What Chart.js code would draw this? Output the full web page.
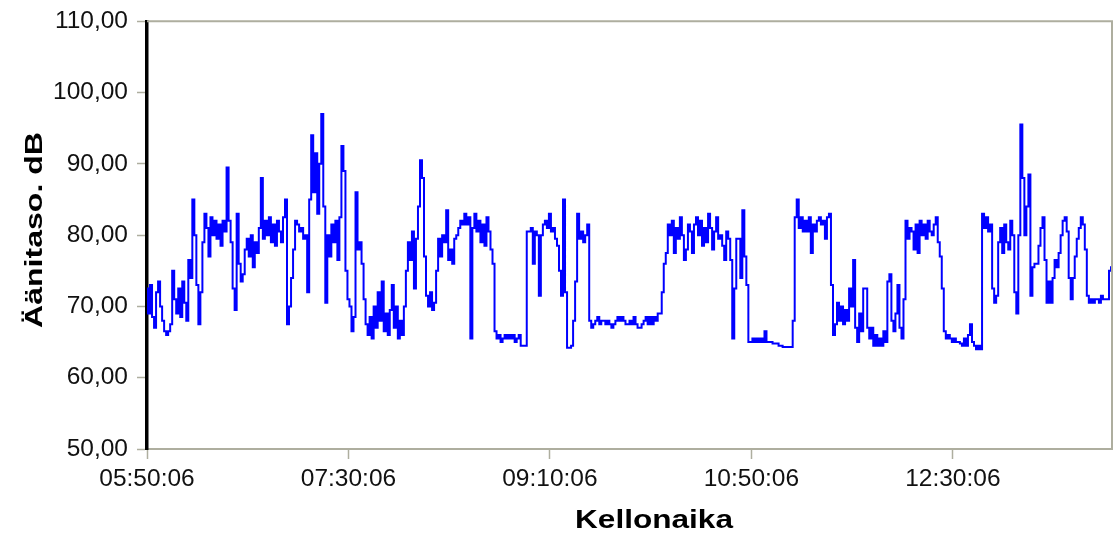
<!DOCTYPE html>
<html lang="fi">
<head>
<meta charset="utf-8">
<title>Äänitaso</title>
<script src="https://cdn.jsdelivr.net/npm/chart.js@4.4.1/dist/chart.umd.min.js"></script>
<style>
  html, body { margin: 0; padding: 0; background: #fff; }
  #wrap { width: 1115px; height: 535px; }
</style>
</head>
<body>
<div id="wrap"><canvas id="chart" width="1115" height="535"></canvas></div>
<script>
// Measurement start and sampling interval (one reading per minute)
const startTime = '05:50:06';
const sampleMinutes = 1;

// Time-axis labels
const tickLabels = ['05:50:06', '07:30:06', '09:10:06', '10:50:06', '12:30:06'];

// Level-axis ticks (dB)
const levelTicks = [50, 60, 70, 80, 90, 100, 110];

// Sound level readings, dB, one per minute
const soundLevel = [
  72.5, 69.0, 73.0, 68.5, 67.0, 72.0, 73.5, 70.0, 68.0, 66.5,
  66.0, 66.5, 67.5, 75.0, 71.0, 69.0, 72.5, 68.5, 73.5, 70.5,
  68.0, 76.5, 74.0, 85.0, 80.0, 73.0, 67.5, 72.0, 79.0, 83.0,
  81.0, 77.0, 82.5, 80.0, 82.0, 79.5, 81.5, 78.5, 82.0, 80.5,
  89.5, 82.0, 79.0, 72.5, 69.5, 83.0, 76.0, 73.5, 74.5, 78.0,
  79.5, 77.0, 80.0, 75.5, 79.0, 77.5, 81.0, 88.0, 79.5, 82.0,
  80.0, 82.5, 79.0, 81.5, 78.5, 82.0, 80.5, 79.0, 82.5, 85.0,
  67.5, 70.0, 74.0, 78.0, 82.0, 81.5, 80.5, 81.0, 79.5, 80.0,
  72.0, 85.0, 94.0, 86.0, 91.5, 83.0, 90.0, 97.0, 84.0, 70.5,
  80.0, 77.0, 81.5, 79.0, 82.0, 76.5, 82.5, 92.5, 89.0, 75.0,
  71.0, 70.0, 66.5, 68.5, 86.0, 78.0, 79.0, 76.0, 71.0, 67.5,
  66.0, 68.5, 65.5, 70.0, 67.0, 72.0, 68.0, 73.5, 66.5, 69.0,
  66.0, 69.5, 73.0, 67.0, 70.0, 65.5, 68.0, 66.0, 70.0, 75.0,
  79.0, 76.5, 80.5, 72.5, 79.5, 84.0, 90.5, 88.0, 77.0, 71.5,
  70.0, 72.0, 69.5, 70.5, 75.0, 79.5, 77.0, 80.0, 79.0, 83.5,
  76.5, 78.0, 76.0, 79.5, 80.0, 81.0, 82.0, 81.5, 83.0, 81.5,
  82.5, 65.5, 81.0, 83.0, 80.5, 82.0, 79.0, 81.5, 78.5, 82.5,
  80.5, 78.0, 76.0, 66.5, 65.5, 66.0, 65.0, 65.5, 66.0, 65.5,
  66.0, 65.5, 66.0, 65.0, 65.5, 66.0, 64.5, 64.5, 64.5, 80.5,
  80.5, 81.0, 76.0, 80.5, 80.0, 71.5, 80.0, 81.5, 82.0, 81.0,
  83.0, 80.5, 81.0, 79.5, 78.5, 75.0, 71.5, 85.0, 72.0, 64.2,
  64.2, 64.5, 68.0, 73.5, 83.0, 79.5, 80.5, 79.0, 80.0, 81.5,
  68.0, 67.0, 67.5, 68.0, 68.5, 67.5, 68.0, 68.0, 67.5, 68.0,
  67.5, 67.0, 67.5, 68.0, 68.5, 68.0, 68.5, 68.0, 67.5, 67.5,
  68.0, 67.5, 68.5, 67.5, 67.0, 67.0, 67.5, 68.0, 68.5, 67.5,
  68.5, 67.5, 68.5, 68.0, 69.0, 69.0, 72.0, 76.0, 77.5, 81.5,
  80.0, 82.0, 77.5, 81.0, 79.5, 82.5, 80.0, 76.5, 78.0, 81.5,
  80.5, 77.5, 81.5, 82.5, 80.0, 82.0, 78.5, 81.0, 79.0, 83.0,
  81.0, 78.0, 80.5, 82.5, 79.5, 80.0, 78.5, 76.5, 80.5, 79.5,
  76.5, 65.5, 72.5, 79.5, 79.5, 74.0, 83.5, 77.0, 73.0, 65.0,
  65.0, 65.5, 65.0, 65.5, 65.0, 65.5, 65.0, 66.5, 65.0, 65.0,
  65.0, 64.8, 64.8, 64.8, 64.5, 64.5, 64.3, 64.3, 64.3, 64.3,
  64.3, 68.0, 82.5, 85.0, 81.0, 82.5, 80.5, 82.0, 80.5, 82.5,
  77.5, 81.5, 80.5, 82.0, 82.5, 81.5, 82.0, 79.5, 82.5, 83.0,
  73.0, 66.0, 67.5, 70.5, 68.0, 70.0, 67.5, 69.5, 68.0, 72.5,
  70.0, 76.5, 67.0, 65.0, 69.0, 66.5, 72.5, 72.5, 67.0, 65.5,
  67.0, 64.5, 66.0, 64.5, 65.5, 64.5, 66.5, 65.0, 73.5, 74.5,
  68.0, 66.5, 69.0, 73.0, 67.0, 65.5, 71.0, 82.0, 79.5, 81.0,
  80.5, 78.0, 81.5, 77.5, 82.0, 80.0, 81.5, 79.5, 82.0, 80.5,
  80.0, 81.5, 82.5, 79.0, 77.0, 72.5, 66.5, 65.5, 66.0, 65.5,
  65.0, 65.5, 65.0, 65.0, 64.8, 64.5, 65.5, 64.5, 66.0, 67.5,
  65.0, 64.5, 64.0, 64.5, 64.0, 83.0, 81.0, 82.5, 80.5, 81.5,
  72.5, 70.5, 71.5, 79.0, 81.0, 77.5, 81.5, 79.0, 78.0, 82.0,
  80.0, 72.0, 69.0, 80.0, 95.5, 88.0, 80.0, 84.0, 88.5, 71.5,
  75.5, 76.0, 76.0, 78.5, 81.0, 82.5, 76.5, 70.5, 73.5, 70.5,
  74.0, 76.5, 75.5, 77.5, 80.0, 82.0, 82.5, 80.5, 74.0, 71.0,
  74.0, 77.0, 79.5, 81.0, 82.5, 81.5, 78.0, 71.5, 70.5, 71.0,
  70.5, 71.0, 71.0, 70.5, 71.5, 71.0, 71.0, 71.0, 75.0, 75.5
];

const xTitle = 'Kellonaika';
const yTitle = 'Äänitaso. dB';

function toSeconds(t) {
  const [h, m, s] = t.split(':').map(Number);
  return h * 3600 + m * 60 + s;
}
const tickMinutes = tickLabels.map(t => (toSeconds(t) - toSeconds(startTime)) / 60);
const points = soundLevel.map((v, i) => ({ x: i * sampleMinutes, y: v }));

const frameColor = '#aeae9f';
const tickFont = { family: '"Liberation Sans", Arial, sans-serif', size: 24.5, lineHeight: 1 };

// Axis titles drawn with a wide letter form
const titlePlugin = {
  id: 'axisTitles',
  afterDraw(chart) {
    const ctx = chart.ctx;
    ctx.save();
    ctx.fillStyle = '#000';
    ctx.textAlign = 'center';
    ctx.textBaseline = 'alphabetic';
    ctx.font = 'bold 25.5px "Liberation Sans", Arial, sans-serif';
    const wx = ctx.measureText(xTitle).width;
    ctx.translate(654, 528);
    ctx.scale(158 / wx, 1);
    ctx.fillText(xTitle, 0, 0);
    ctx.restore();

    ctx.save();
    ctx.fillStyle = '#000';
    ctx.textAlign = 'center';
    ctx.textBaseline = 'alphabetic';
    ctx.font = 'bold 23.5px "Liberation Sans", Arial, sans-serif';
    const wy = ctx.measureText(yTitle).width;
    ctx.translate(42, 230);
    ctx.rotate(-Math.PI / 2);
    ctx.scale(196 / wy, 1);
    ctx.fillText(yTitle, 0, 0);
    ctx.restore();
  }
};

// Top and right edges of the plot frame
const framePlugin = {
  id: 'plotFrame',
  afterDraw(chart) {
    const { ctx, chartArea: a } = chart;
    ctx.save();
    ctx.strokeStyle = frameColor;
    ctx.lineWidth = 2;
    ctx.beginPath();
    ctx.moveTo(a.left, a.top);
    ctx.lineTo(a.right, a.top);
    ctx.lineTo(a.right, a.bottom);
    ctx.stroke();
    ctx.restore();
  }
};

new Chart(document.getElementById('chart'), {
  type: 'line',
  data: {
    datasets: [{
      data: points,
      borderColor: '#0000ff',
      borderWidth: 2,
      pointRadius: 0,
      stepped: 'middle',
      fill: false
    }]
  },
  options: {
    responsive: false,
    animation: false,
    layout: { padding: { top: 20, right: 3, left: 0, bottom: 0 } },
    plugins: { legend: { display: false }, tooltip: { enabled: false } },
    scales: {
      x: {
        type: 'linear',
        min: 0,
        max: (soundLevel.length - 1) * sampleMinutes,
        afterFit(scale) { scale.height = 86; },
        afterBuildTicks(scale) { scale.ticks = tickMinutes.map(v => ({ value: v })); },
        grid: { drawOnChartArea: false, drawTicks: true, tickLength: 10, tickColor: frameColor, tickWidth: 1.5 },
        border: { color: frameColor, width: 2 },
        ticks: {
          font: tickFont,
          color: '#111',
          padding: 8,
          maxRotation: 0,
          autoSkip: false,
          callback: v => tickLabels[tickMinutes.indexOf(v)]
        }
      },
      y: {
        min: levelTicks[0],
        max: levelTicks[levelTicks.length - 1],
        afterFit(scale) { scale.width = 147; },
        afterBuildTicks(scale) { scale.ticks = levelTicks.map(v => ({ value: v })); },
        grid: { drawOnChartArea: false, drawTicks: true, tickLength: 10, tickColor: frameColor, tickWidth: 1.5 },
        border: { color: '#000', width: 3.5 },
        ticks: {
          font: tickFont,
          color: '#111',
          padding: 9,
          callback: v => v.toFixed(2).replace('.', ',')
        }
      }
    }
  },
  plugins: [titlePlugin, framePlugin]
});
</script>
</body>
</html>
